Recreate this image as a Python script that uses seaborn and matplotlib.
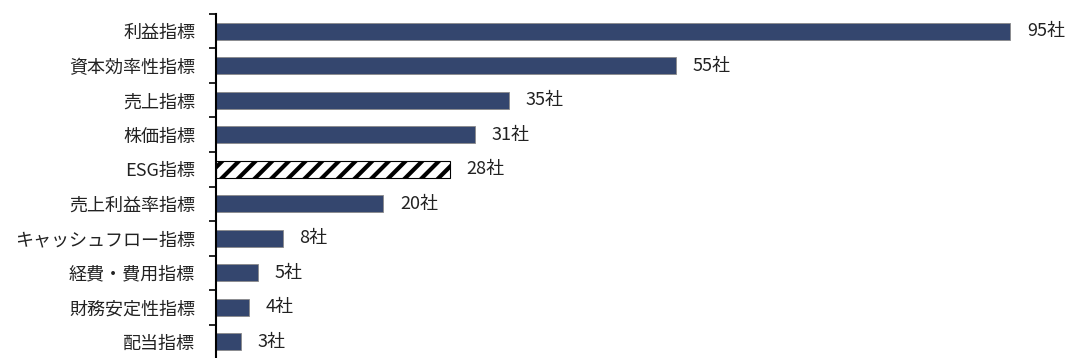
import matplotlib
matplotlib.use('agg')
import matplotlib.pyplot as plt
import seaborn as sns
import pandas as pd
import numpy as np

categories = ['利益指標', '資本効率性指標', '売上指標', '株価指標', 'ESG指標',
              '売上利益率指標', 'キャッシュフロー指標', '経費・費用指標', '財務安定性指標', '配当指標']
counts = [95, 55, 35, 31, 28, 20, 8, 5, 4, 3]
labels = [f'{v}社' for v in counts]

sns.set_style('white')
plt.rcParams['font.family'] = ['Noto Sans CJK JP', 'DejaVu Sans']
plt.rcParams['hatch.linewidth'] = 3.0

df = pd.DataFrame({'cat': categories, 'n': counts})

fig = plt.figure(figsize=(10.69, 3.58), dpi=100)
ax = fig.add_axes([0.202, -0.003, 0.798, 0.964])

sns.barplot(data=df, x='n', y='cat', orient='h', color='#34466E',
            saturation=1, width=0.5, edgecolor='#8a8a8a', linewidth=0.6, ax=ax)

# ESG bar is hatched
esg = ax.patches[categories.index('ESG指標')]
esg.set_facecolor('white')
esg.set_edgecolor('black')
esg.set_hatch('//')
esg.set_linewidth(0.8)

ax.bar_label(ax.containers[0], labels=labels, padding=12, fontsize=13, color='#222222')

ax.set_xlim(0, 102)
ax.set_ylim(len(categories) - 0.5, -0.5)
ax.set_xlabel('')
ax.set_ylabel('')
ax.set_xticks([])
ax.tick_params(axis='y', which='major', left=False, length=0, labelsize=13, pad=15, labelcolor='#222222')
ax.set_yticks(np.arange(-0.5, len(categories), 1), minor=True)
ax.tick_params(axis='y', which='minor', left=True, length=5, width=1.2, direction='out', color='black')

for s in ['top', 'right', 'bottom']:
    ax.spines[s].set_visible(False)
ax.spines['left'].set_linewidth(1.5)
ax.spines['left'].set_color('black')

fig.savefig('out.png', dpi=100)
